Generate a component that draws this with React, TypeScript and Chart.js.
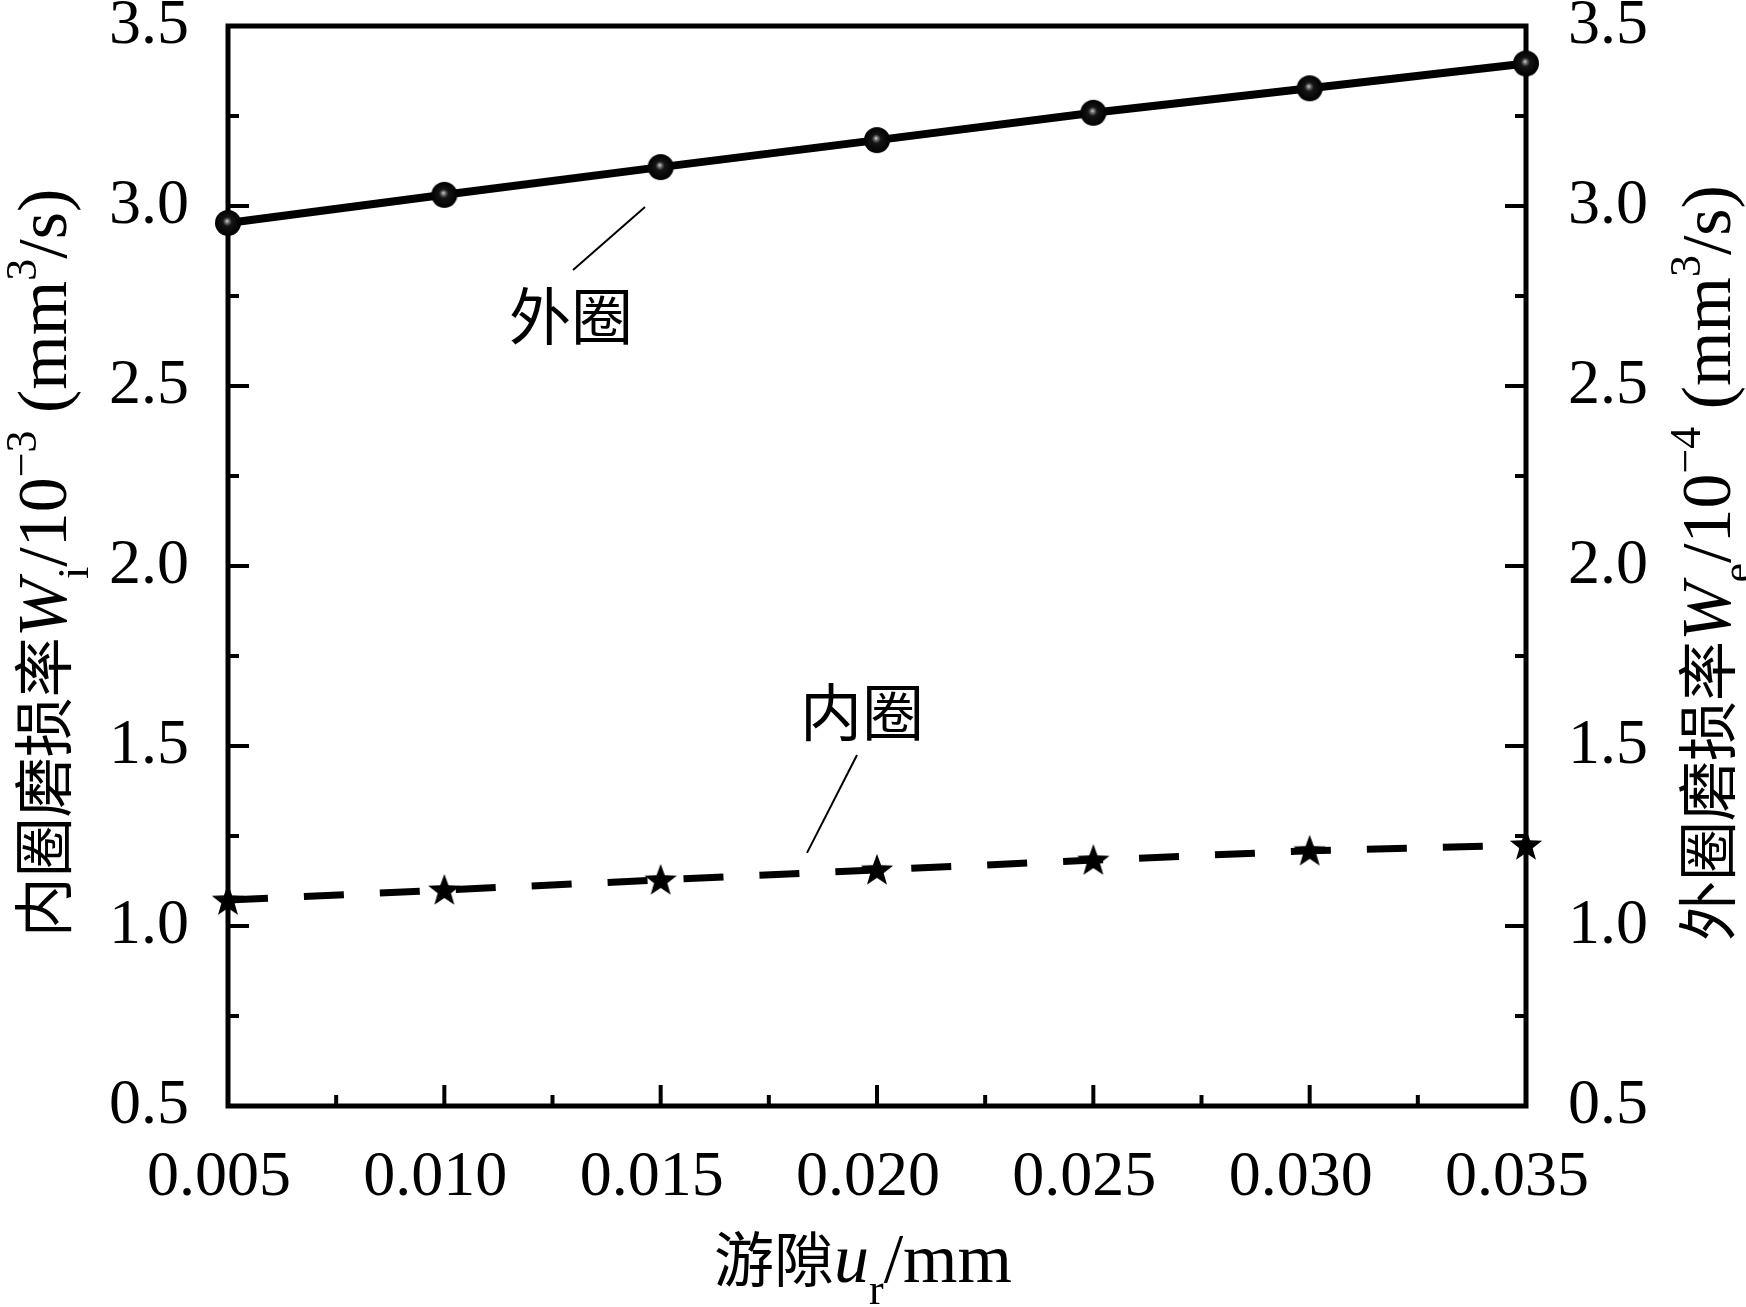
import { useEffect, useRef } from 'react'
import { Chart, registerables } from 'chart.js'

Chart.register(...registerables)

// clearance u_r (mm)
const clearance = [0.005, 0.01, 0.015, 0.02, 0.025, 0.03, 0.035]
// outer ring wear rate W_e /10^-4 (mm^3/s), right axis
const outerRate = [2.953, 3.031, 3.108, 3.183, 3.259, 3.327, 3.396]
// inner ring wear rate W_i /10^-3 (mm^3/s), left axis
const innerRate = [1.072, 1.1, 1.128, 1.156, 1.183, 1.209, 1.225]

const xTickValues = [0.005, 0.01, 0.015, 0.02, 0.025, 0.03, 0.035]
const yTickValues = [0.5, 1.0, 1.5, 2.0, 2.5, 3.0, 3.5]

// callout labels and their leader lines, in data units
const calloutText = ['外圈', '内圈']
const calloutPos = [
  [0.01293, 2.694],
  [0.019653, 1.594]
]
const leaderLines = [
  [0.012974, 2.822, 0.014638, 2.997],
  [0.018382, 1.203, 0.019538, 1.475]
]

const SERIF = "'Liberation Serif', 'Times New Roman', serif"
const CJK = "'Noto Sans CJK SC', sans-serif"

type Seg = { t: string; f: string; dy?: number }

const cjk = (t: string): Seg => ({ t, f: `60px ${CJK}` })
const rom = (t: string): Seg => ({ t, f: `70px ${SERIF}` })
const ita = (t: string): Seg => ({ t, f: `italic 70px ${SERIF}` })
const sub = (t: string): Seg => ({ t, f: `44px ${SERIF}`, dy: 22 })
const sup = (t: string): Seg => ({ t, f: `44px ${SERIF}`, dy: -30 })

const xTitle = [cjk('游隙'), ita('u'), sub('r'), rom('/mm')]
const yTitle = [cjk('内圈磨损率'), ita('W'), sub('i'), rom('/10'), sup('−3'), rom(' (mm'), sup('3'), rom('/s)')]
const y1Title = [cjk('外圈磨损率'), ita('W'), sub('e'), rom('/10'), sup('−4'), rom(' (mm'), sup('3'), rom('/s)')]

function drawRich(ctx: CanvasRenderingContext2D, segs: Seg[], cx: number, by: number, rot: number) {
  ctx.save()
  ctx.translate(cx, by)
  ctx.rotate(rot)
  ctx.fillStyle = '#000'
  ctx.textBaseline = 'alphabetic'
  ctx.textAlign = 'left'
  let total = 0
  const widths = segs.map(s => {
    ctx.font = s.f
    const w = ctx.measureText(s.t).width
    total += w
    return w
  })
  let x = -total / 2
  segs.forEach((s, i) => {
    ctx.font = s.f
    ctx.fillText(s.t, x, s.dy || 0)
    x += widths[i]
  })
  ctx.restore()
}

function sphereImage(r: number) {
  const s = r * 2 + 2
  const c = document.createElement('canvas')
  c.width = s
  c.height = s
  const g = c.getContext('2d')!
  const grad = g.createRadialGradient(s / 2 - 1, s / 2 - 2, 0, s / 2, s / 2, r)
  grad.addColorStop(0, '#e0e0e0')
  grad.addColorStop(0.13, '#7a7a7a')
  grad.addColorStop(0.35, '#151515')
  grad.addColorStop(1, '#000')
  g.fillStyle = grad
  g.beginPath()
  g.arc(s / 2, s / 2, r, 0, Math.PI * 2)
  g.fill()
  return c
}

function starImage(ro: number, ri: number) {
  const s = ro * 2 + 2
  const c = document.createElement('canvas')
  c.width = s
  c.height = s
  const g = c.getContext('2d')!
  g.fillStyle = '#000'
  g.beginPath()
  for (let k = 0; k < 10; k++) {
    const r = k % 2 === 0 ? ro : ri
    const a = -Math.PI / 2 + (k * Math.PI) / 5
    const px = s / 2 + r * Math.cos(a)
    const py = s / 2 + 1 + r * Math.sin(a)
    if (k === 0) g.moveTo(px, py)
    else g.lineTo(px, py)
  }
  g.closePath()
  g.fill()
  return c
}

const decor = {
  id: 'decor',
  beforeDatasetsDraw(chart: any) {
    const { ctx, chartArea: a, scales } = chart
    const seg = (x1: number, y1: number, x2: number, y2: number) => {
      ctx.beginPath()
      ctx.moveTo(x1, y1)
      ctx.lineTo(x2, y2)
      ctx.stroke()
    }
    ctx.save()
    ctx.strokeStyle = '#000'
    ctx.lineWidth = 4
    yTickValues.forEach((v, i) => {
      const py = scales.y.getPixelForValue(v)
      seg(a.left, py, a.left + 21, py)
      seg(a.right, py, a.right - 21, py)
      if (i < yTickValues.length - 1) {
        const pm = scales.y.getPixelForValue((v + yTickValues[i + 1]) / 2)
        seg(a.left, pm, a.left + 11, pm)
        seg(a.right, pm, a.right - 11, pm)
      }
    })
    xTickValues.forEach((v, i) => {
      const px = scales.x.getPixelForValue(v)
      seg(px, a.bottom, px, a.bottom - 21)
      if (i < xTickValues.length - 1) {
        const pm = scales.x.getPixelForValue((v + xTickValues[i + 1]) / 2)
        seg(pm, a.bottom, pm, a.bottom - 11)
      }
    })
    ctx.lineWidth = 5
    ctx.strokeRect(a.left, a.top, a.right - a.left, a.bottom - a.top)
    ctx.restore()
  },
  afterDraw(chart: any) {
    const { ctx, chartArea: a, scales } = chart
    ctx.save()
    ctx.strokeStyle = '#000'
    ctx.lineWidth = 2
    leaderLines.forEach(([x1, y1, x2, y2]) => {
      ctx.beginPath()
      ctx.moveTo(scales.x.getPixelForValue(x1), scales.y.getPixelForValue(y1))
      ctx.lineTo(scales.x.getPixelForValue(x2), scales.y.getPixelForValue(y2))
      ctx.stroke()
    })
    ctx.fillStyle = '#000'
    ctx.font = `62px ${CJK}`
    ctx.textAlign = 'center'
    ctx.textBaseline = 'middle'
    calloutText.forEach((t, i) => {
      ctx.fillText(t, scales.x.getPixelForValue(calloutPos[i][0]), scales.y.getPixelForValue(calloutPos[i][1]))
    })
    ctx.restore()
    const midY = (a.top + a.bottom) / 2 - 3
    drawRich(ctx, xTitle, (a.left + a.right) / 2 - 14, 1282, 0)
    drawRich(ctx, yTitle, 66, midY, -Math.PI / 2)
    drawRich(ctx, y1Title, 1730, midY, -Math.PI / 2)
  }
}

export default function App() {
  const canvasRef = useRef<HTMLCanvasElement>(null)

  useEffect(() => {
    if (!canvasRef.current) return
    const tickFont = { family: SERIF, size: 64, lineHeight: 0.8 }
    const yScale = (position: 'left' | 'right', width: number, padding: number) => ({
      type: 'linear' as const,
      position,
      min: 0.5,
      max: 3.5,
      grid: { display: false },
      border: { display: false },
      afterBuildTicks: (s: any) => {
        s.ticks = yTickValues.map(v => ({ value: v }))
      },
      afterFit: (s: any) => {
        s.width = width
        s.paddingTop = 0
        s.paddingBottom = 0
      },
      ticks: {
        color: '#000',
        font: tickFont,
        padding,
        callback: (v: any) => Number(v).toFixed(1)
      }
    })

    const chart = new Chart(canvasRef.current, {
      type: 'line',
      data: {
        datasets: [
          {
            label: '外圈',
            data: clearance.map((x, i) => ({ x, y: outerRate[i] })),
            yAxisID: 'y1',
            borderColor: '#000',
            borderWidth: 8,
            pointStyle: sphereImage(13) as any,
            pointRadius: 13,
            tension: 0,
            clip: false as any
          },
          {
            label: '内圈',
            data: clearance.map((x, i) => ({ x, y: innerRate[i] })),
            yAxisID: 'y',
            borderColor: '#000',
            borderWidth: 7,
            borderDash: [40, 36],
            pointStyle: starImage(17, 7) as any,
            pointRadius: 17,
            tension: 0,
            clip: false as any
          }
        ]
      },
      options: {
        animation: false,
        responsive: false,
        devicePixelRatio: 1,
        layout: { padding: { top: 26, left: 0, right: 0, bottom: 0 } },
        plugins: {
          legend: { display: false },
          tooltip: { enabled: false }
        },
        scales: {
          x: {
            type: 'linear',
            position: 'bottom',
            min: 0.005,
            max: 0.035,
            grid: { display: false },
            border: { display: false },
            afterBuildTicks: (s: any) => {
              s.ticks = xTickValues.map(v => ({ value: v }))
            },
            afterFit: (s: any) => {
              s.height = 201
            },
            ticks: {
              color: '#000',
              font: { family: SERIF, size: 64, lineHeight: 1 },
              padding: 32,
              labelOffset: -9,
              maxRotation: 0,
              autoSkip: false,
              callback: (v: any) => Number(v).toFixed(3)
            }
          },
          y: yScale('left', 228, 31),
          y1: yScale('right', 220, 34)
        }
      },
      plugins: [decor]
    })

    return () => {
      chart.destroy()
    }
  }, [])

  return (
    <div style={{ position: 'absolute', left: 0, top: 0, width: 1746, height: 1307, background: '#fff' }}>
      <canvas ref={canvasRef} width={1746} height={1307} style={{ display: 'block' }}></canvas>
    </div>
  )
}
